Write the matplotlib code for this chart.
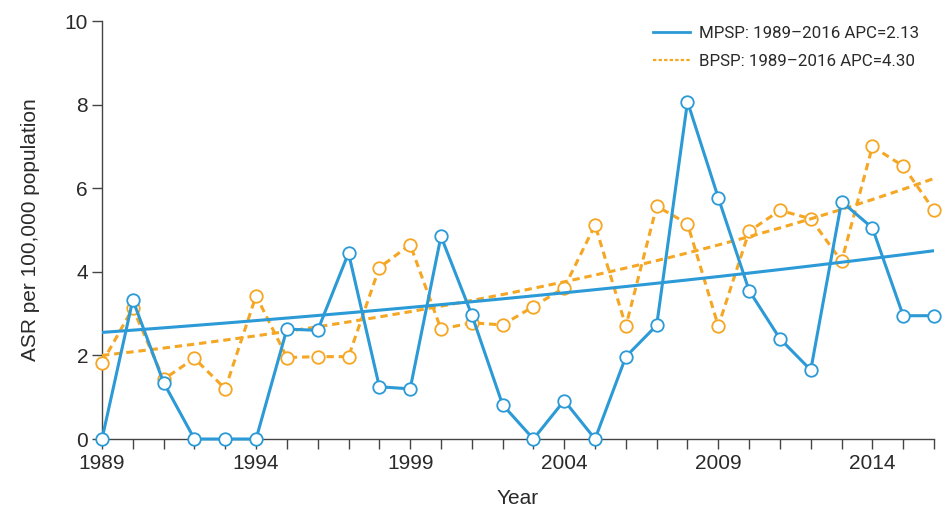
import matplotlib
matplotlib.use("Agg")
import matplotlib.pyplot as plt
from matplotlib.lines import Line2D
import numpy as np

years = list(range(1989, 2017))

mpsp = [0, 3.33, 1.35, 0, 0, 0, 2.63, 2.60, 4.45, 1.25, 1.20, 4.85, 2.97, 0.82,
        0, 0.92, 0, 1.97, 2.72, 8.07, 5.77, 3.55, 2.40, 1.65, 5.68, 5.05, 2.95, 2.95]
bpsp = [1.82, 3.13, 1.43, 1.93, 1.20, 3.43, 1.95, 1.97, 1.97, 4.10, 4.65, 2.63, 2.78, 2.73,
        3.17, 3.62, 5.12, 2.70, 5.57, 5.15, 2.70, 4.97, 5.47, 5.27, 4.25, 7.00, 6.53, 5.47]

# joinpoint trend: start value and annual percent change
mpsp_start, mpsp_apc = 2.55, 2.13
bpsp_start, bpsp_apc = 2.0, 4.30

blue = "#2b9ad6"
orange = "#f5a623"

plt.rcParams["font.family"] = ["Liberation Sans", "DejaVu Sans"]

fig = plt.figure(figsize=(9.47, 5.09), dpi=100)
ax = fig.add_axes([0.1077, 0.1375, 0.8786, 0.8212])

t = np.array(years) - years[0]
mpsp_fit = mpsp_start * (1 + mpsp_apc / 100) ** t
bpsp_fit = bpsp_start * (1 + bpsp_apc / 100) ** t

ax.plot(years, bpsp, color=orange, lw=2.2, ls=(0, (2.4, 1.6)), marker="o", ms=9,
        mfc="white", mec=orange, mew=1.3, clip_on=False, zorder=3)
ax.plot(years, bpsp_fit, color=orange, lw=2.2, ls=(0, (2.4, 1.6)), zorder=4)
ax.plot(years, mpsp, color=blue, lw=2.2, marker="o", ms=9,
        mfc="white", mec=blue, mew=1.3, clip_on=False, zorder=5)
ax.plot(years, mpsp_fit, color=blue, lw=2.2, zorder=4)

ax.set_xlim(1989, 2016)
ax.set_ylim(0, 10)
ax.set_xticks(range(1989, 2017, 5))
ax.set_xticks(years, minor=True)
ax.set_yticks(range(0, 11, 2))

for s in ["top", "right"]:
    ax.spines[s].set_visible(False)
for s in ["left", "bottom"]:
    ax.spines[s].set_color("#444444")
    ax.spines[s].set_linewidth(1.0)

ax.tick_params(axis="both", which="both", direction="out", length=7, width=1,
               color="#444444", labelsize=15, labelcolor="#2a2a2a", pad=3)
ax.tick_params(axis="x", which="major", pad=4)

ax.set_xlabel("Year", fontsize=15, color="#2a2a2a", labelpad=11)
ax.set_ylabel("ASR per 100,000 population", fontsize=15, color="#2a2a2a", labelpad=18)

handles = [Line2D([], [], color=blue, lw=2),
           Line2D([], [], color=orange, lw=1.6, ls=(0, (1.5, 1)))]
labels = ["MPSP: 1989\u20132016 APC=2.13", "BPSP: 1989\u20132016 APC=4.30"]
ax.legend(handles, labels, loc="upper right", bbox_to_anchor=(1.0, 1.025), frameon=False,
          prop={"family": ["Roboto", "DejaVu Sans"], "size": 12.2},
          labelcolor="#2a2a2a", handlelength=2.2, handletextpad=0.5, labelspacing=0.75)

fig.savefig("out.png", dpi=100)
